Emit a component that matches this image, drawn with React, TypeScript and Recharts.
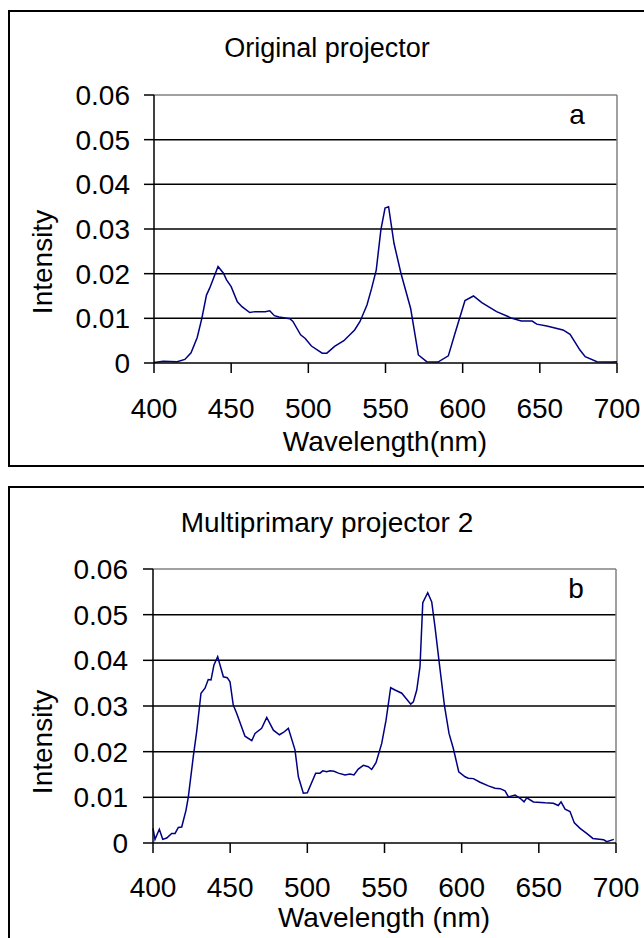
import { LineChart, Line, XAxis, YAxis, ReferenceLine } from 'recharts'

const FONT = '"Liberation Sans", Arial, sans-serif'

// x axis and y axis ticks
const xTicks = [400, 450, 500, 550, 600, 650, 700]
const yTicks = [0, 0.01, 0.02, 0.03, 0.04, 0.05, 0.06]
const gridValues = [0.01, 0.02, 0.03, 0.04, 0.05]

// panel a - original projector
const wavelengthA = [
  400, 406, 415, 420, 424, 428, 431, 434, 436, 441.5, 445, 447, 450, 454, 457, 462, 465.5, 472, 475,
  478, 481, 488, 490, 495, 498, 502, 509, 512, 517, 523, 530, 533.5, 538, 541, 544, 547, 549.7, 552,
  555.5, 560, 566.3, 571.3, 576.7, 584, 590.7, 595, 601.5, 607, 612.4, 622, 632, 638, 645, 648, 654.5,
  665, 669.6, 676, 679.4, 687, 696.7, 700,
]
const intensityA = [
  0.0001, 0.0004, 0.0003, 0.0008, 0.0023, 0.0057, 0.01, 0.0152, 0.0167, 0.0216, 0.0201, 0.0186, 0.0171,
  0.0137, 0.0126, 0.0113, 0.0115, 0.0115, 0.0117, 0.0106, 0.0103, 0.0099, 0.0093, 0.0063, 0.0055, 0.0038,
  0.0022, 0.0022, 0.0037, 0.005, 0.0074, 0.0093, 0.013, 0.0167, 0.0208, 0.0298, 0.0347, 0.035, 0.0268,
  0.0201, 0.0122, 0.0018, 0.0003, 0.0002, 0.0016, 0.0066, 0.014, 0.015, 0.0135, 0.0115, 0.01, 0.0094,
  0.0094, 0.0087, 0.0083, 0.0074, 0.0064, 0.0029, 0.0014, 0.0003, 0.0002, 0.0003,
]

// panel b - multiprimary projector 2
const wavelengthB = [
  400, 401.3, 404.1, 406.3, 408.9, 412.1, 414.3, 416.4, 418.6, 421.4, 422.9, 426.1, 428.3, 431.1, 433.7,
  435.8, 437.6, 439.5, 441.9, 445.6, 448.1, 449.9, 452, 454.2, 459.6, 464, 466.1, 470.4, 473.7, 478,
  481.9, 484.5, 487.7, 492, 494.2, 497.4, 500, 505.4, 508.2, 510, 512.5, 514.7, 517.3, 520.1, 524.4,
  527.6, 530.2, 533, 536.3, 539.5, 541.7, 544.5, 548.2, 551, 554, 556.8, 561.2, 564.4, 567, 568.7, 570.9,
  573, 574.8, 578, 580.6, 582.7, 585.5, 588.8, 591.8, 594.6, 598.1, 602.2, 604.3, 607.6, 611.9, 617.3,
  621.6, 624.9, 628.1, 630.3, 634.6, 637.9, 640.4, 642.2, 646.5, 654, 659.4, 662.6, 664.4, 667, 670.2,
  673, 676.7, 681, 685, 692, 694, 698.6, 700,
]
const intensityB = [
  0.0032, 0.0008, 0.003, 0.0008, 0.0011, 0.0021, 0.0021, 0.0034, 0.0035, 0.0072, 0.0101, 0.0189, 0.0244,
  0.0328, 0.0339, 0.0358, 0.0357, 0.039, 0.0408, 0.0364, 0.0362, 0.0353, 0.0302, 0.0284, 0.0234, 0.0224,
  0.024, 0.0251, 0.0275, 0.0247, 0.0237, 0.0242, 0.0251, 0.0204, 0.0145, 0.0109, 0.011, 0.0153, 0.0153,
  0.0158, 0.0156, 0.0158, 0.0157, 0.0153, 0.0149, 0.0151, 0.0149, 0.0162, 0.017, 0.0167, 0.0161, 0.0176,
  0.0218, 0.0269, 0.034, 0.0335, 0.0328, 0.0315, 0.0304, 0.0309, 0.0335, 0.0386, 0.0526, 0.0548, 0.0528,
  0.0474, 0.0394, 0.0302, 0.024, 0.0207, 0.0156, 0.0145, 0.0142, 0.0141, 0.0133, 0.0125, 0.012, 0.0119,
  0.0114, 0.0101, 0.0105, 0.0098, 0.009, 0.0099, 0.009, 0.0088, 0.0087, 0.0082, 0.009, 0.0074, 0.0069,
  0.0044, 0.0032, 0.0021, 0.001, 0.0007, 0.0003, 0.0008,
]

const dataA = wavelengthA.map((w, i) => ({ w, v: intensityA[i] }))
const dataB = wavelengthB.map((w, i) => ({ w, v: intensityB[i] }))

const tickStyle = { fill: '#000', fontSize: 28, fontFamily: FONT }
const fmtY = (v: number) => (v === 0 ? '0' : v.toFixed(2))

interface PanelProps {
  data: { w: number; v: number }[]
  top: number
  height: number
  plotTop: number
  axisW: number
  axisH: number
  right: number
  xMargin: number
  yMargin: number
}

function Panel({ data, top, height, plotTop, axisW, axisH, right, xMargin, yMargin }: PanelProps) {
  return (
    <div style={{ position: 'absolute', left: 0, top }}>
      <LineChart width={644} height={height} data={data} margin={{ top: plotTop, right, left: 0, bottom: 0 }}>
        <XAxis
          dataKey="w"
          type="number"
          domain={[400, 700]}
          ticks={xTicks}
          height={axisH}
          tickSize={10}
          tickMargin={xMargin}
          tick={tickStyle}
          stroke="#000"
          strokeWidth={1.5}
          interval={0}
        />
        <YAxis
          type="number"
          domain={[0, 0.06]}
          ticks={yTicks}
          width={axisW}
          tickSize={10}
          tickMargin={yMargin}
          tick={tickStyle}
          tickFormatter={fmtY}
          stroke="#000"
          strokeWidth={1.5}
          interval={0}
        />
        {gridValues.map(g => (
          <ReferenceLine key={g} y={g} stroke="#000" strokeWidth={1.5} />
        ))}
        <ReferenceLine y={0.06} stroke="#808080" strokeWidth={1.5} />
        <ReferenceLine x={700} stroke="#808080" strokeWidth={1.5} />
        <Line type="linear" dataKey="v" stroke="#000080" strokeWidth={1.5} dot={false} isAnimationActive={false} />
      </LineChart>
    </div>
  )
}

export default function App() {
  const txt = { fontFamily: FONT, fontSize: 28, fill: '#000' }
  return (
    <div style={{ position: 'absolute', left: 0, top: 0, width: 644, height: 938, overflow: 'hidden', background: '#fff' }}>
      <div style={{ position: 'absolute', left: 8, top: 10, width: 660, height: 457, border: '2px solid #000', boxSizing: 'border-box' }} />
      <div style={{ position: 'absolute', left: 8, top: 486, width: 660, height: 480, border: '2px solid #000', boxSizing: 'border-box' }} />

      <Panel data={dataA} top={0} height={470} plotTop={95} axisW={154} axisH={107} right={27} xMargin={25} yMargin={14} />
      <Panel data={dataB} top={470} height={468} plotTop={99} axisW={153} axisH={95} right={28} xMargin={24} yMargin={15} />

      <svg width={644} height={938} style={{ position: 'absolute', left: 0, top: 0, pointerEvents: 'none' }}>
        <text x={327} y={57} textAnchor="middle" {...txt} fontSize={27}>Original projector</text>
        <text x={577} y={124} textAnchor="middle" {...txt}>a</text>
        <text x={385} y={451} textAnchor="middle" {...txt}>Wavelength(nm)</text>
        <text transform="translate(52,262) rotate(-90)" textAnchor="middle" {...txt}>Intensity</text>

        <text x={327} y={532} textAnchor="middle" {...txt}>Multiprimary projector 2</text>
        <text x={576} y={598} textAnchor="middle" {...txt}>b</text>
        <text x={384} y={927} textAnchor="middle" {...txt}>Wavelength (nm)</text>
        <text transform="translate(52,742) rotate(-90)" textAnchor="middle" {...txt}>Intensity</text>
      </svg>
    </div>
  )
}
